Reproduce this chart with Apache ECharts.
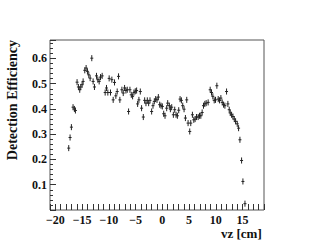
<!DOCTYPE html>
<html><head><meta charset="utf-8">
<script src="https://cdn.jsdelivr.net/npm/echarts@6/dist/echarts.min.js"></script>
<style>html,body{margin:0;padding:0;background:#fff}#c{width:315px;height:250px}</style>
</head><body><div id="c"></div>
<script>
const vz = [-17.50,-17.25,-17.00,-16.69,-16.44,-16.25,-15.94,-15.69,-15.44,-15.25,-15.00,-14.81,-14.50,-14.25,-14.00,-13.75,-13.50,-13.19,-12.94,-12.69,-12.31,-12.06,-11.81,-11.56,-11.25,-10.69,-10.44,-10.19,-9.94,-9.69,-9.44,-9.19,-8.94,-8.69,-8.44,-8.19,-7.94,-7.56,-7.31,-7.06,-6.81,-6.56,-6.31,-6.06,-5.81,-5.56,-5.31,-5.06,-4.81,-4.62,-4.38,-4.12,-3.88,-3.56,-3.31,-3.06,-2.81,-2.56,-2.31,-2.00,-1.75,-1.50,-1.25,-1.00,-0.75,-0.50,-0.25,0.00,0.25,0.50,0.81,1.00,1.31,1.50,1.75,2.06,2.31,2.56,2.81,3.06,3.31,3.56,3.81,4.06,4.31,4.56,4.81,5.12,5.31,5.62,5.88,6.12,6.38,6.69,6.94,7.19,7.44,7.69,7.94,8.19,8.56,8.94,9.19,9.44,9.69,9.94,10.19,10.44,10.69,10.94,11.19,11.44,11.69,12.00,12.25,12.50,12.69,12.94,13.19,13.44,13.69,14.00,14.25,14.50,14.81,15.06,15.44];
const eff = [0.245,0.287,0.328,0.407,0.400,0.394,0.506,0.487,0.476,0.487,0.496,0.509,0.553,0.562,0.549,0.535,0.522,0.601,0.509,0.487,0.531,0.516,0.509,0.526,0.531,0.465,0.483,0.465,0.521,0.465,0.516,0.436,0.505,0.452,0.469,0.529,0.436,0.476,0.463,0.483,0.473,0.476,0.390,0.476,0.456,0.450,0.465,0.470,0.473,0.420,0.436,0.469,0.403,0.368,0.434,0.423,0.434,0.423,0.434,0.390,0.413,0.430,0.439,0.436,0.447,0.417,0.413,0.410,0.381,0.373,0.403,0.423,0.413,0.399,0.407,0.377,0.397,0.377,0.373,0.395,0.439,0.434,0.413,0.399,0.364,0.436,0.344,0.311,0.344,0.377,0.357,0.360,0.368,0.368,0.373,0.373,0.386,0.413,0.420,0.423,0.426,0.476,0.465,0.450,0.434,0.436,0.492,0.439,0.434,0.443,0.426,0.417,0.413,0.469,0.420,0.397,0.384,0.377,0.370,0.360,0.351,0.341,0.324,0.278,0.196,0.113,0.025];
const errs = eff.map(() => 0.012);
const xTicks = [-20,-15,-10,-5,0,5,10,15];
const yTicks = [0.1,0.2,0.3,0.4,0.5,0.6];
const xTitle = 'vz [cm]';
const yTitle = 'Detection Efficiency';

const data = vz.map((x,i)=>[x, eff[i], errs[i]]);
const font = 'Liberation Serif';
const chart = echarts.init(document.getElementById('c'), null, {renderer:'svg'});
chart.setOption({
  animation:false,
  backgroundColor:'#fff',
  grid:{left:50,right:51,top:40,bottom:40,show:true,borderColor:'#555',borderWidth:1,backgroundColor:'transparent'},
  xAxis:[{
    type:'value',min:-21,max:19,interval:1,position:'bottom',
    axisLine:{show:false,onZero:false},
    splitLine:{show:false},
    axisTick:{inside:true,length:6,lineStyle:{color:'#333'},
      interval:(i,v)=>{const n=Number(v);return Math.abs(n/5-Math.round(n/5))<1e-6;}},
    axisLabel:{margin:4,color:'#111',fontFamily:font,fontWeight:'bold',fontSize:12,
      formatter:v=>xTicks.includes(Math.round(v))&&Math.abs(v-Math.round(v))<1e-6?String(Math.round(v)).replace('-','\u2212'):''},
  },{
    type:'value',min:-21,max:19,interval:1,position:'bottom',
    axisLine:{show:false,onZero:false},splitLine:{show:false},axisLabel:{show:false},
    axisTick:{inside:true,length:3,lineStyle:{color:'#333'}}
  }],
  yAxis:{
    type:'value',min:0,max:0.673,interval:0.1,position:'left',
    axisLine:{show:false,onZero:false},splitLine:{show:false},
    axisTick:{inside:true,length:6,lineStyle:{color:'#333'}},
    minorTick:{show:true,splitNumber:5,length:3,lineStyle:{color:'#333'}},
    axisLabel:{margin:3,color:'#111',fontFamily:font,fontWeight:'bold',fontSize:12,showMinLabel:false,
      formatter:v=>{const r=Math.round(v*10)/10;return yTicks.includes(r)?r.toFixed(1):'';}}
  },
  graphic:[
    {type:'text',left:221,top:227,style:{text:xTitle,font:'bold 13px '+font,fill:'#111'}},
    {type:'text',x:5,y:40,rotation:Math.PI/2,style:{text:yTitle,font:'bold 14px '+font,fill:'#111',align:'right',verticalAlign:'top'}}
  ],
  series:[{
    type:'custom',
    xAxisIndex:0,
    data:data,
    renderItem:(params,api)=>{
      const x=api.value(0),y=api.value(1),e=api.value(2);
      const p=api.coord([x,y]),lo=api.coord([x,y-e]),hi=api.coord([x,y+e]);
      return {type:'group',children:[
        {type:'line',shape:{x1:p[0],y1:lo[1],x2:p[0],y2:hi[1]},style:{stroke:'#222',lineWidth:1}},
        {type:'line',shape:{x1:p[0]-1.5,y1:p[1],x2:p[0]+1.5,y2:p[1]},style:{stroke:'#222',lineWidth:1}}
      ]};
    }
  }]
});
</script></body></html>
